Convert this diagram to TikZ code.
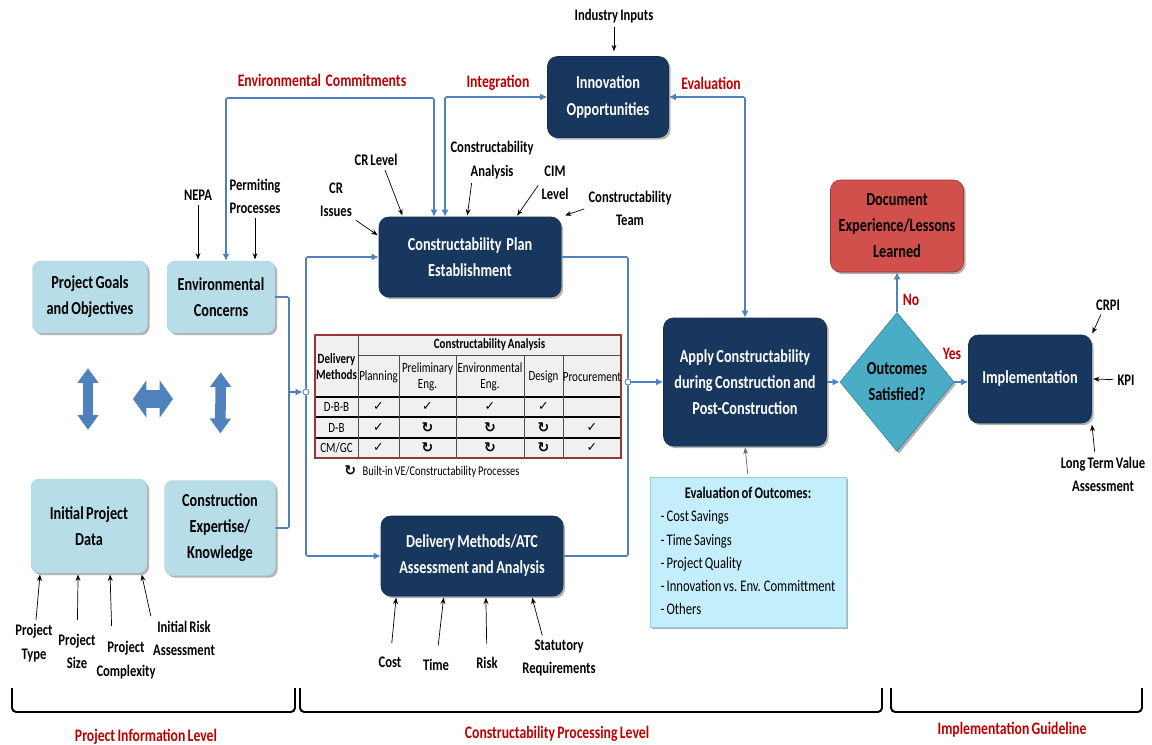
\documentclass[tikz,border=0pt]{standalone}
\usepackage{fontspec}
\setmainfont{Carlito}[FakeStretch=0.78, WordSpace=0.75]
\newfontfamily\symfont{DejaVu Sans}
\usepackage{xcolor}
\usepackage{tikz}
\usetikzlibrary{positioning}
\usetikzlibrary{arrows.meta}
\usetikzlibrary{shapes.geometric}
\usetikzlibrary{shadows}

\newdimen\pxu
\pxu=0.025cm

\definecolor{paleblue}{HTML}{B7DEE8}
\definecolor{navy}{HTML}{17375E}
\definecolor{flowblue}{HTML}{4F81BD}
\definecolor{alertred}{HTML}{C00000}
\definecolor{lessonred}{HTML}{D2504B}
\definecolor{decision}{HTML}{4BACC6}
\definecolor{evalfill}{HTML}{C4EEFC}
\definecolor{evaledge}{HTML}{8FCFE6}
\definecolor{tblred}{HTML}{953735}

\newcommand{\bigtxt}{\fontsize{13}{18.5}\selectfont\bfseries}
\newcommand{\lbltxt}{\fontsize{11.5}{16.5}\selectfont\bfseries}
\newcommand{\redtxt}{\fontsize{12.5}{15}\selectfont\bfseries}
\newcommand{\tbltxt}{\fontsize{10}{11.5}\selectfont}
\newcommand{\chk}{{\symfont\fontsize{9}{10}\selectfont ✓}}
\newcommand{\loopmark}{{\symfont\bfseries\fontsize{10}{10}\selectfont ↻}}

\tikzset{
    softshadow/.style={drop shadow={shadow xshift=1.5pt, shadow yshift=-1.5pt, opacity=0.3, fill=black}},
    infobox/.style={rectangle, rounded corners=6pt, fill=paleblue, draw=paleblue!85!gray, line width=0.3pt,
        align=center, font=\bigtxt, text=black, softshadow},
    navybox/.style={rectangle, rounded corners=7pt, fill=navy, draw=navy!80!black, line width=0.4pt,
        align=center, font=\bigtxt, text=white, softshadow},
    lessonbox/.style={rectangle, rounded corners=7pt, fill=lessonred, draw=lessonred!70!black, line width=0.4pt,
        align=center, font=\bigtxt, text=black, softshadow},
    decbox/.style={diamond, fill=decision, draw=decision!75!black, line width=0.4pt, inner sep=0pt,
        align=center, font=\bigtxt, text=black, softshadow},
    evalbox/.style={rectangle, fill=evalfill, draw=evaledge, line width=0.6pt,
        font=\fontsize{11.5}{16.5}\selectfont, softshadow},
    lbl/.style={font=\lbltxt, align=center, inner sep=1pt},
    redlbl/.style={font=\redtxt, text=alertred, inner sep=1pt},
    flow/.style={draw=flowblue, line width=1.1pt, rounded corners=1pt},
    flowtip/.style={-{Latex[length=5pt,width=5pt]}},
    bothtips/.style={{Latex[length=5pt,width=5pt]}-{Latex[length=5pt,width=5pt]}},
    note/.style={draw=black, line width=0.5pt, -{Stealth[length=4.5pt,width=3.5pt]}, shorten <=2pt, shorten >=1pt},
    junct/.style={circle, draw=flowblue, fill=white, line width=0.6pt, minimum size=6*\pxu, inner sep=0pt},
    bigarrow/.style={draw=flowblue, line width=7.5pt,
        {Triangle[length=10.5pt,width=14.5pt]}-{Triangle[length=10.5pt,width=14.5pt]}},
    fatarrow/.style={draw=flowblue, line width=13.5pt,
        {Triangle[length=9.5pt,width=26pt]}-{Triangle[length=9.5pt,width=26pt]}},
    brace/.style={draw=black, line width=1.4pt, rounded corners=3pt},
    tbltext/.style={font=\tbltxt, align=center, inner sep=0pt},
    tblhead/.style={font=\tbltxt\bfseries, align=center, inner sep=0pt},
    rowline/.style={draw=black, line width=0.9pt},
    colline/.style={draw=black!70, line width=0.6pt}
}

\begin{document}
\begin{tikzpicture}[x=0.025cm, y=-0.025cm]
    \useasboundingbox (0,0) rectangle (1152,744);

    % project information boxes
    \node[infobox, minimum width=115*\pxu, minimum height=72*\pxu] (goals) at (90,297) {Project Goals\\and Objectives};
    \node[infobox, minimum width=108*\pxu, minimum height=72*\pxu] (envc) at (221,297) {Environmental\\Concerns};
    \node[infobox, minimum width=116*\pxu, minimum height=94*\pxu] (initdata) at (89,526) {Initial Project\\Data};
    \node[infobox, minimum width=111*\pxu, minimum height=95*\pxu] (expert) at (220,528) {Construction\\Expertise/\\Knowledge};

    \coordinate (hl) at (133,399);
    \coordinate (hr) at (173,399);
    \draw[bigarrow, shorten <=35*\pxu, shorten >=49*\pxu] (goals.south -| 88,0) -- (initdata.north -| 88,0);
    \draw[bigarrow, shorten <=39*\pxu, shorten >=47*\pxu] (envc.south) -- (expert.north);
    \draw[fatarrow] (hl) -- (hr);

    % processing boxes
    \node[navybox, minimum width=121*\pxu, minimum height=81*\pxu] (innov) at (608,97) {Innovation\\Opportunities};
    \node[navybox, minimum width=182*\pxu, minimum height=80*\pxu] (cpe) at (470,257) {Constructability~~Plan\\Establishment};
    \node[navybox, minimum width=163*\pxu, minimum height=128*\pxu] (apply) at (745,382) {Apply Constructability\\during Construction and\\Post-Construction};
    \node[navybox, minimum width=182*\pxu, minimum height=80*\pxu] (dma) at (472,556) {Delivery Methods/ATC\\Assessment and Analysis};
    \node[navybox, minimum width=123*\pxu, minimum height=88*\pxu] (impl) at (1030,379) {Implementation};
    \node[lessonbox, minimum width=133*\pxu, minimum height=92*\pxu] (doc) at (897,226) {Document\\Experience/Lessons\\Learned};
    \node[decbox, minimum width=114*\pxu, minimum height=139*\pxu] (osat) at (897,382) {Outcomes\\Satisfied?};
    \node[evalbox, minimum width=196*\pxu, minimum height=150*\pxu] (eval) at (748,552)
        {\begin{tabular}{@{}l@{}}
            \multicolumn{1}{@{}c@{}}{\bfseries Evaluation of Outcomes:}\\
            - Cost Savings\\
            - Time Savings\\
            - Project Quality\\
            - Innovation vs. Env. Committment\\
            - Others
        \end{tabular}};

    % delivery methods table
    \node[rectangle, fill=black!6, minimum width=306*\pxu, minimum height=123*\pxu, inner sep=0pt] (tbl) at (468,396.5) {};
    \draw[colline] (358,355) -- (621,355);
    \foreach \ry in {397,417,438}
        \draw[rowline] (315,\ry) -- (621,\ry);
    \draw[colline] (358,335) -- (358,458);
    \foreach \cx in {399,456,524,563}
        \draw[colline] (\cx,355) -- (\cx,458);
    \draw[draw=tblred, line width=1.4pt] (tbl.north west) rectangle (tbl.south east);

    \node[tblhead] (tanalysis) at (489.5,345) {Constructability Analysis};
    \node[tblhead] (tmethods) at (336.5,367) {Delivery\\Methods};
    \foreach \cx/\ctext [count=\ci] in {378.5/Planning, 427.5/{Preliminary\\Eng.}, 490/{Environmental\\Eng.}, 543.5/Design, 592/Procurement}
        \node[tbltext] (thead\ci) at (\cx,377) {\ctext};
    \foreach \ry/\rtext [count=\ri] in {407/D-B-B, 427.5/D-B, 448/{CM/GC}}
        \node[tbltext] (trow\ri) at (336.5,\ry) {\rtext};
    \foreach \cx [count=\ci] in {378.5,427.5,490,543.5}
        \node[tbltext] (ta\ci) at (\cx,407) {\chk};
    \foreach \ry [count=\ri] in {427.5,448} {
        \node[tbltext] (tb\ri) at (378.5,\ry) {\chk};
        \foreach \cx [count=\ci] in {427.5,490,543.5}
            \node[tbltext] (tc\ri\ci) at (\cx,\ry) {\loopmark};
        \node[tbltext] (td\ri) at (592,\ry) {\chk};
    }
    \node[font=\fontsize{9.5}{11}\selectfont, anchor=west, inner sep=0pt] (legend) at (344,472) {\loopmark\enspace Built-in VE/Constructability Processes};

    % flow connectors
    \coordinate (bl) at (289,392);
    \node[junct] (jl) at (306,392) {};
    \node[junct] (jr) at (628,382) {};
    \draw[flow] (envc.east) -| (bl) |- (expert.east);
    \draw[flow, flowtip] (bl) -- (jl);
    \draw[flow, flowtip] (jl) |- (cpe.west);
    \draw[flow, flowtip] (jl) |- (dma.west);
    \draw[flow] (cpe.east) -| (jr);
    \draw[flow] (dma.east) -| (jr);
    \draw[flow, flowtip] (jr) -- (apply.west);

    \coordinate (ecl) at (226,98);
    \coordinate (ecr) at (434,98);
    \coordinate (intg) at (445,98);
    \draw[flow, bothtips] (envc.north -| ecl) -- (ecl) -- (ecr) -- (cpe.north -| ecr);
    \draw[flow, bothtips] (cpe.north -| intg) |- (innov.west);
    \draw[flow, bothtips] (innov.east) -| (apply.north);

    \draw[flow, flowtip] (apply.east) -- (osat.west);
    \draw[flow, flowtip] (osat.east) -- (osat.east -| impl.west);
    \draw[flow, flowtip] (osat.north) -- (doc.south);
    \draw[note, draw=black!60] (eval.north) -- (apply.south);

    \node[redlbl] (eclbl) at (322,80) {Environmental~~Commitments};
    \node[redlbl] (intlbl) at (498,83) {Integration};
    \node[redlbl] (evlbl) at (711,83) {Evaluation};
    \node[redlbl] (nolbl) at (911,300) {No};
    \node[redlbl] (yeslbl) at (952,354) {Yes};

    % input labels
    \node[lbl] (indin) at (614,16) {Industry Inputs};
    \node[lbl] (nepa) at (198,195) {NEPA};
    \node[lbl] (permit) at (255,196) {Permiting\\Processes};
    \node[lbl] (crissue) at (336,200) {CR\\Issues};
    \node[lbl] (crlevel) at (376,160) {CR Level};
    \node[lbl] (canal) at (492,160) {Constructability\\Analysis};
    \node[lbl] (cim) at (555,183) {CIM\\Level};
    \node[lbl] (team) at (630,208) {Constructability\\Team};
    \node[lbl] (crpi) at (1108,305) {CRPI};
    \node[lbl] (kpi) at (1126,380) {KPI};
    \node[lbl] (ltva) at (1103,474) {Long Term Value\\Assessment};
    \node[lbl] (cost) at (390,662) {Cost};
    \node[lbl] (time) at (436,665) {Time};
    \node[lbl] (risk) at (487,663) {Risk};
    \node[lbl] (statreq) at (559,658) {Statutory\\Requirements};
    \node[lbl] (ptype) at (34,643) {Project\\Type};
    \node[lbl] (psize) at (77,651) {Project\\Size};
    \node[lbl] (pcomp) at (126,660) {Project\\Complexity};
    \node[lbl] (irisk) at (184,638) {Initial Risk\\Assessment};

    \draw[note, shorten >=5*\pxu] (indin) -- (indin |- innov.north);
    \draw[note] (nepa) -- (nepa |- envc.north);
    \draw[note] (permit) -- (permit |- envc.north);
    \draw[note] (crissue.south east) -- (cpe.167);
    \draw[note] ([xshift=8*\pxu]crlevel.south) -- (cpe.149);
    \draw[note] ([xshift=-20*\pxu]canal.south) -- (cpe.94);
    \draw[note] (cim.west) -- (cpe.41);
    \draw[note, shorten >=4*\pxu] (team.west) -- (cpe.north east);
    \draw[note] ([xshift=-6*\pxu]crpi.south) -- (impl.north east);
    \draw[note] (kpi) -- (impl.east);
    \draw[note] ([xshift=-8*\pxu]ltva.north) -- (impl.south east);
    \draw[note, shorten <=12*\pxu] (cost) -- (dma.208);
    \draw[note, shorten <=12*\pxu] (time) -- (dma.235);
    \draw[note, shorten <=12*\pxu] (risk) -- (dma.289);
    \draw[note] ([xshift=-16*\pxu]statreq.north) -- (dma.326);
    \draw[note] (ptype) -- (initdata.224);
    \draw[note, shorten <=12*\pxu] (psize) -- (initdata.257);
    \draw[note, shorten <=14*\pxu] ([xshift=-14*\pxu]pcomp.north) -- (initdata.294);
    \draw[note] (irisk.north west) -- (initdata.318);

    % level brackets
    \draw[brace] (12,688) -- (12,712) -- (295,712) -- (295,688);
    \draw[brace] (300,688) -- (300,712) -- (882,712) -- (882,688);
    \draw[brace] (891,688) -- (891,712) -- (1142,712) -- (1142,688);
    \node[redlbl] (lvlinfo) at (146,737) {Project Information Level};
    \node[redlbl] (lvlproc) at (557,734) {Constructability Processing Level};
    \node[redlbl] (lvlimpl) at (1012,730) {Implementation Guideline};
\end{tikzpicture}
\end{document}
